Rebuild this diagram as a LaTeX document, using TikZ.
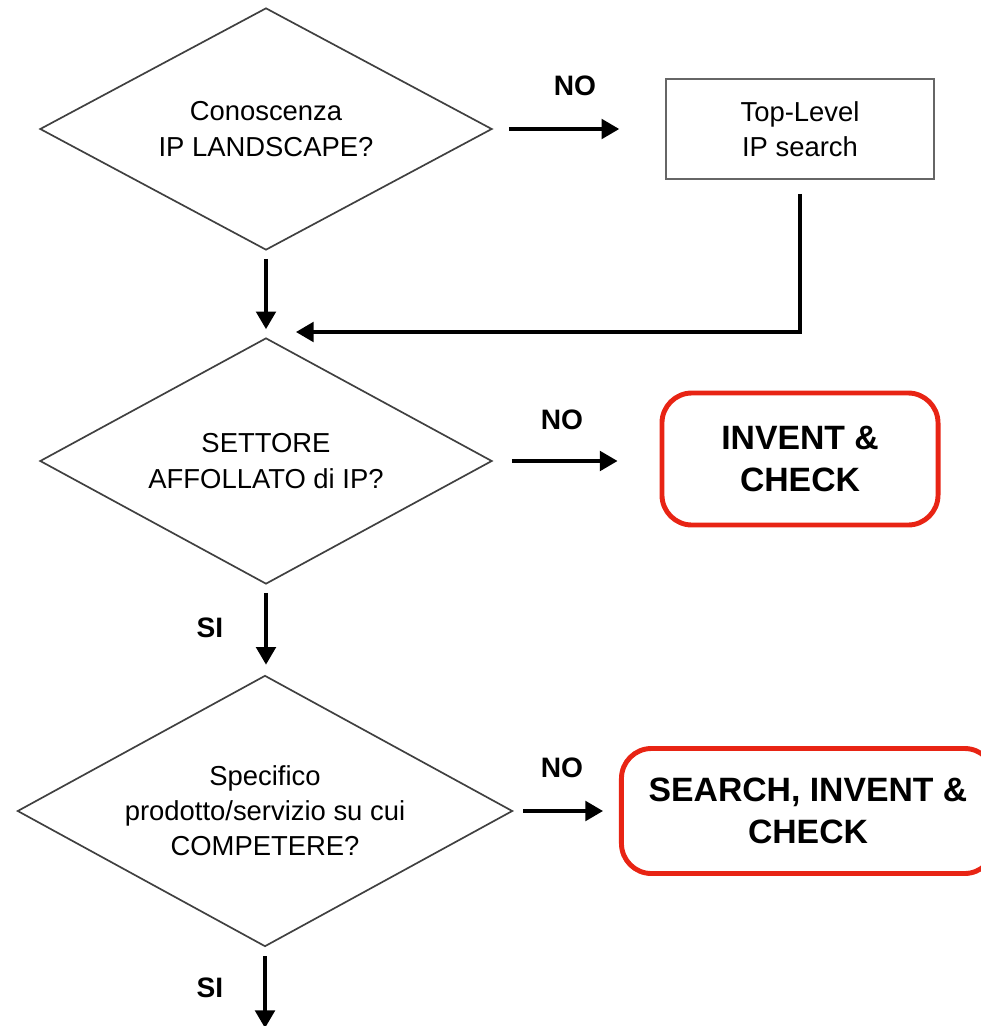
\documentclass[tikz,border=0pt]{standalone}
\usepackage{fontspec}
\setmainfont{Liberation Sans}
\usetikzlibrary{shapes.geometric}
\usetikzlibrary{arrows.meta}
\tikzstyle{every link} = []
\tikzstyle{link} = [-{Triangle[length=12.5pt,width=14pt]}, line width=2.2pt, draw, every link]
\definecolor{bordo}{RGB}{64,64,64}
\definecolor{rosso}{RGB}{232,36,20}

\begin{document}
\begin{tikzpicture}[x=0.025cm, y=-0.025cm]
        \tikzstyle{domanda} = [diamond, draw=bordo, line width=1.2pt, aspect=1.9, inner xsep=-4pt, inner ysep=0pt, align=center, font=\fontsize{19.5}{25}\selectfont]
        \tikzstyle{azione} = [rectangle, draw=gray!80!black, line width=1.1pt, align=center, minimum width=6.7cm, minimum height=2.5cm, font=\fontsize{19.5}{25}\selectfont]
        \tikzstyle{esito} = [rectangle, draw=rosso, line width=3.5pt, rounded corners=0.75cm, align=center, font=\fontsize{24}{30}\selectfont\bfseries]
        \tikzstyle{risposta} = [font=\fontsize{20}{24}\selectfont\bfseries]

        \useasboundingbox (0,0) rectangle (980,1026);

        % domande
        \node[domanda, minimum width=11.3cm, minimum height=6.05cm] (landscape) at (266,129) {Conoscenza\\IP LANDSCAPE?};
        \node[domanda, minimum width=11.3cm, minimum height=6.15cm] (settore) at (266,461) {SETTORE\\AFFOLLATO di IP?};
        \node[domanda, minimum width=12.375cm, minimum height=6.775cm] (prodotto) at (265,811) {Specifico\\prodotto/servizio su cui\\COMPETERE?};

        % azioni ed esiti
        \node[azione] (toplevel) at (800,129) {Top-Level\\IP search};
        \node[esito, minimum width=6.9cm, minimum height=3.3cm] (invent) at (800,459) {INVENT \&\\CHECK};
        \node[esito, minimum width=9.325cm, minimum height=3.125cm] (search) at (808,811) {SEARCH, INVENT \&\\CHECK};

        \node[risposta] (no1) at (575,86) {NO};
        \node[risposta] (no2) at (562,420) {NO};
        \node[risposta] (no3) at (562,768) {NO};
        \node[risposta] (si1) at (210,628) {SI};
        \node[risposta] (si2) at (210,988) {SI};

        \coordinate (rientro) at (266,332);
        \coordinate (uscita) at (265,1028);

        \path[link, shorten <=0.4cm, shorten >=1.15cm] (landscape.east) -- (toplevel.west);
        \path[link, shorten <=0.2cm, shorten >=0.2cm] (landscape.south) -- (settore.north);
        \path[link, shorten <=0.35cm, shorten >=0.75cm] (toplevel.south) |- (rientro);
        \path[link, shorten <=0.475cm, shorten >=1.05cm] (settore.east) -- (settore.east -| invent.west);
        \path[link, shorten <=0.2cm, shorten >=0.25cm] (settore.south) -- (settore.south |- prodotto.north);
        \path[link, shorten <=0.25cm, shorten >=0.4cm] (prodotto.east) -- (search.west);
        \path[link, shorten <=0.225cm] (prodotto.south) -- (uscita);
\end{tikzpicture}
\end{document}
